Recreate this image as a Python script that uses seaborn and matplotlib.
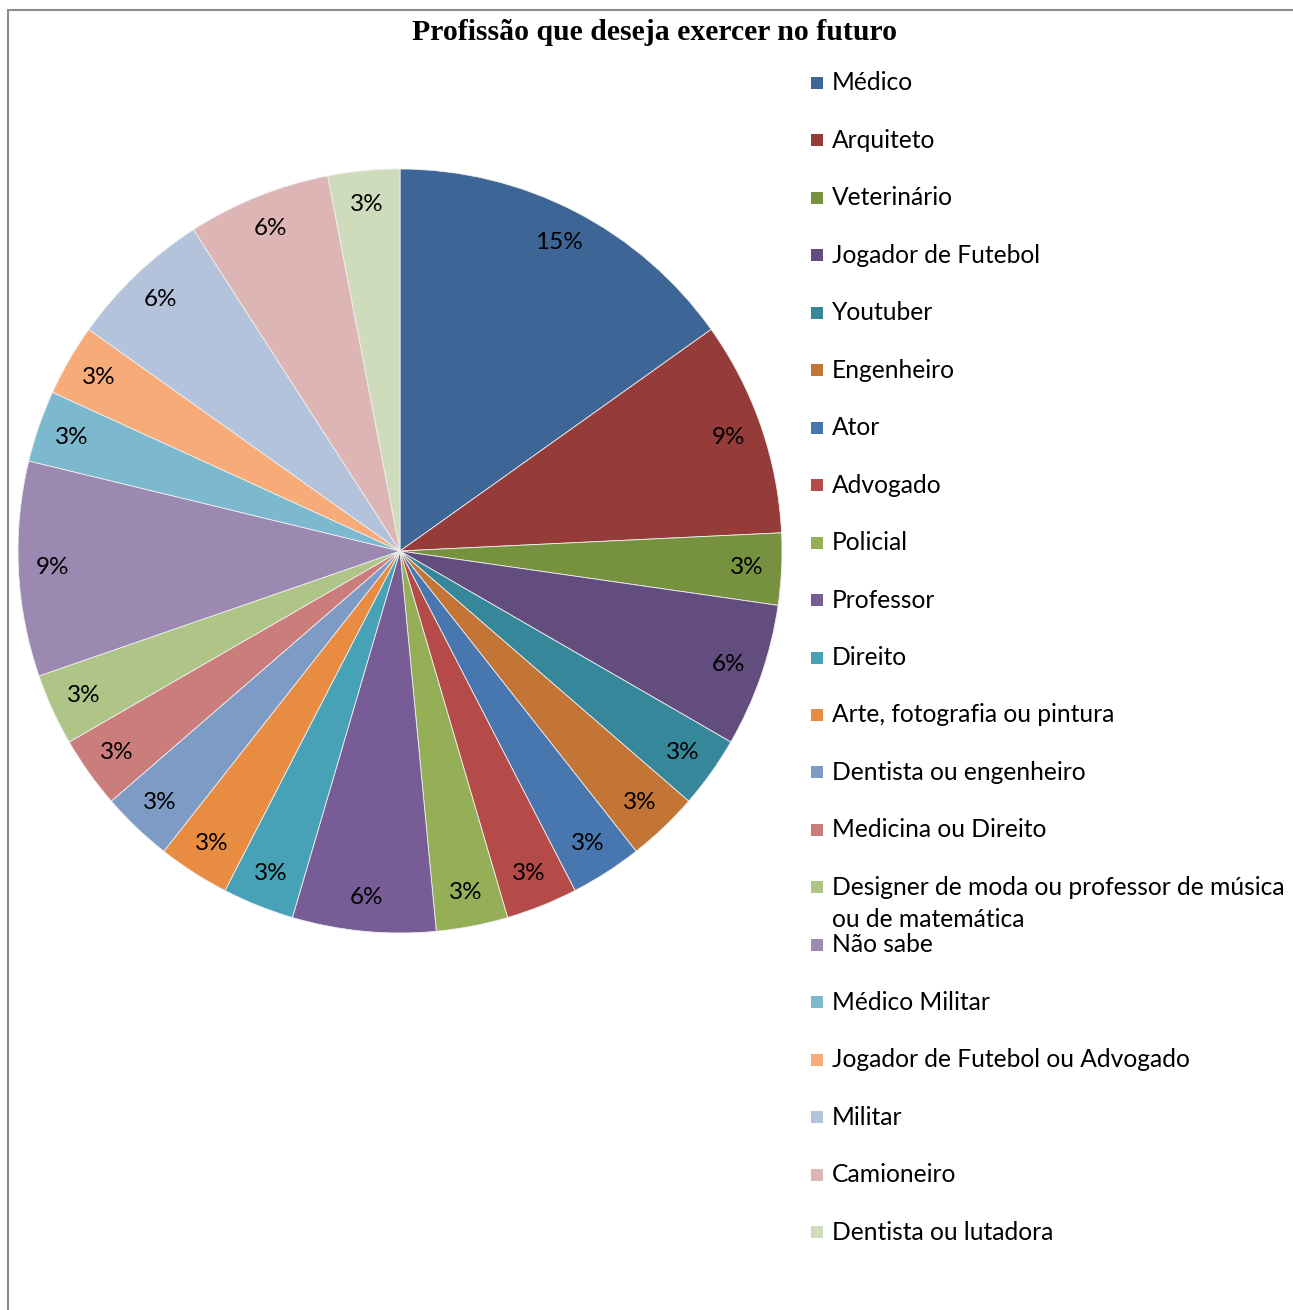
import matplotlib
matplotlib.use("Agg")
import matplotlib.pyplot as plt
import seaborn as sns
from matplotlib.patches import Rectangle

# dados: número de respostas por profissão
profissoes = [
    "Médico", "Arquiteto", "Veterinário", "Jogador de Futebol", "Youtuber",
    "Engenheiro", "Ator", "Advogado", "Policial", "Professor", "Direito",
    "Arte, fotografia ou pintura", "Dentista ou engenheiro", "Medicina ou Direito",
    "Designer de moda ou professor de música\nou de matemática", "Não sabe",
    "Médico Militar", "Jogador de Futebol ou Advogado", "Militar", "Camioneiro",
    "Dentista ou lutadora",
]
respostas = [5, 3, 1, 2, 1, 1, 1, 1, 1, 2, 1, 1, 1, 1, 1, 3, 1, 1, 2, 2, 1]
cores = [
    "#3D6596", "#953C3B", "#77923F", "#634C7E", "#37879A", "#C27535",
    "#4877B0", "#B54B49", "#94AF56", "#785C96", "#47A2B8", "#E88C41",
    "#7E9BC6", "#CB7D7C", "#AFC588", "#9B89B1", "#7CB8CE", "#F6AB79",
    "#B4C3DC", "#DEB5B5", "#CFDCBC",
]
titulo = "Profissão que deseja exercer no futuro"

sns.set_style("white")
plt.rcParams["font.family"] = ["Lato", "DejaVu Sans"]

W, H = 1293, 1310
fig = plt.figure(figsize=(W / 100, H / 100), dpi=100)

# moldura cinza (só topo e esquerda aparecem)
fig.add_artist(Rectangle((8 / W, -0.1), 1.2, 1.1 - 10 / H, transform=fig.transFigure,
                         fill=False, edgecolor="#8C8C8C", lw=1.5))

# gráfico de pizza
cx, cy, r = 400, 551, 382
ax = fig.add_axes([(cx - r) / W, (H - cy - r) / H, 2 * r / W, 2 * r / H])
ax.pie(respostas, colors=cores, startangle=90, counterclock=False,
       autopct="%.0f%%", pctdistance=0.91, radius=1,
       wedgeprops=dict(edgecolor="#EEEEEE", linewidth=0.6),
       textprops=dict(fontsize=17.5, color="black"))
ax.set_xlim(-1, 1)
ax.set_ylim(-1, 1)
ax.set_aspect("equal")
ax.axis("off")

fig.text(655 / W, 1 - 33 / H, titulo, ha="center", va="center",
         fontsize=21.4, fontweight="bold", family="Liberation Serif", color="black")

# legenda
y0, passo = 83, 57.45
for i, (nome, cor) in enumerate(zip(profissoes, cores)):
    y = y0 + i * passo
    fig.add_artist(Rectangle((811 / W, 1 - (y + 6) / H), 12 / W, 12 / H,
                             transform=fig.transFigure, facecolor=cor, edgecolor="none"))
    for k, linha in enumerate(nome.split("\n")):
        fig.text(832 / W, 1 - (y + k * 32) / H, linha, ha="left", va="center",
                 fontsize=17.7, color="black")

fig.savefig("out.png", dpi=100)
